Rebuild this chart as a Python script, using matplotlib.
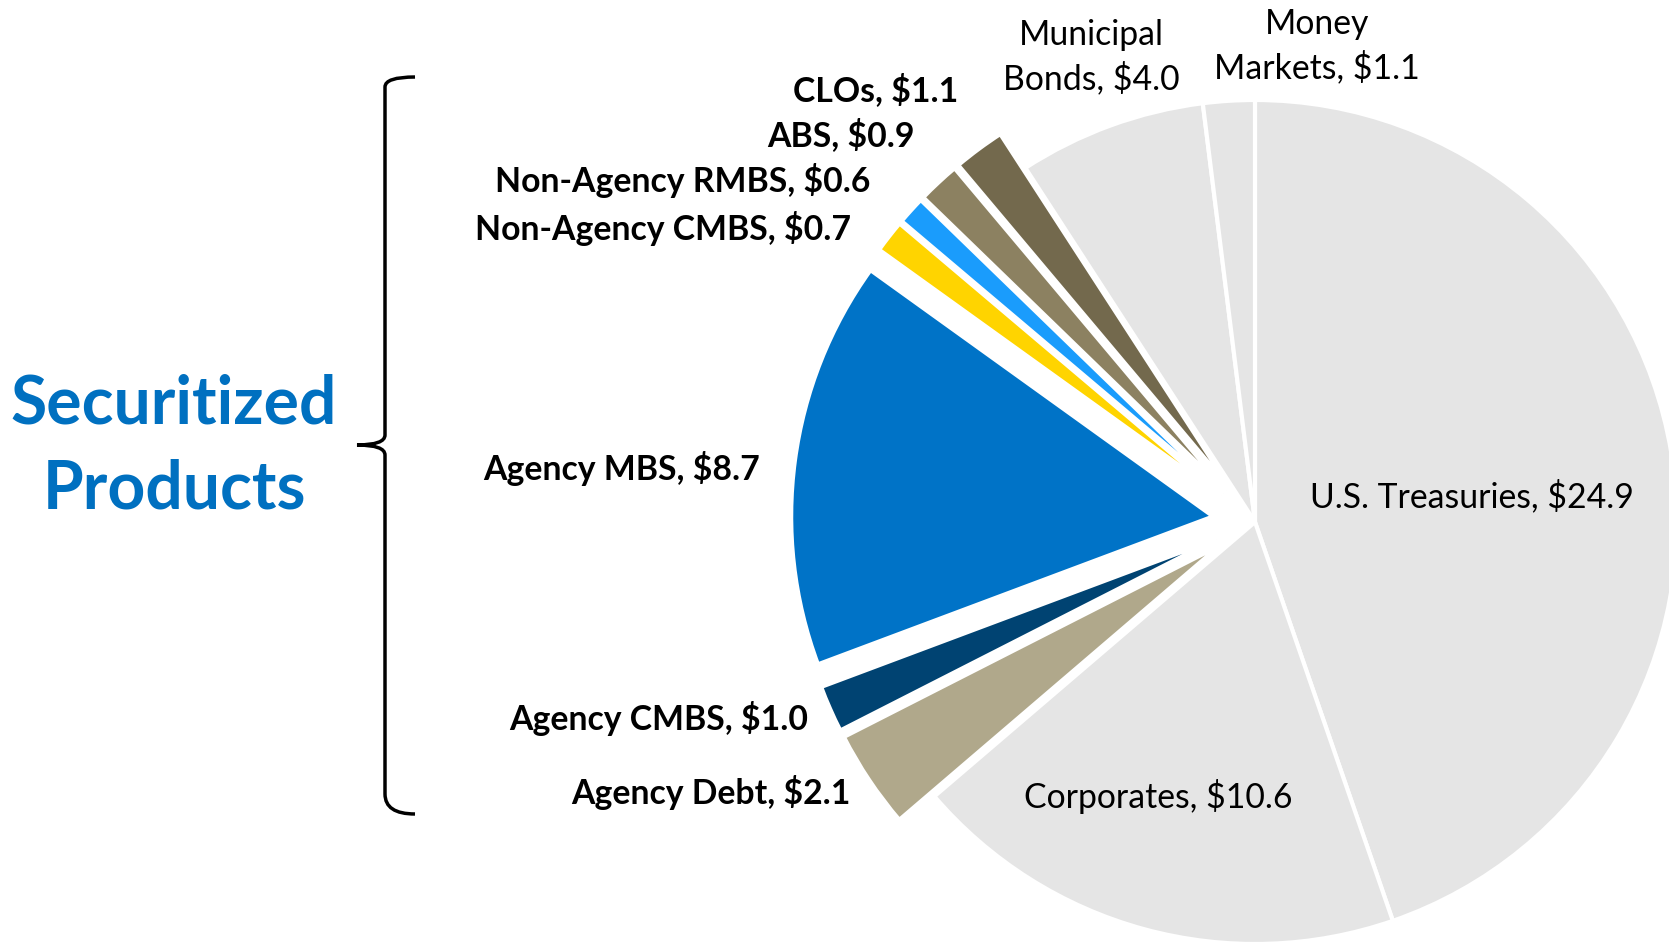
import matplotlib
matplotlib.use("Agg")
import matplotlib.pyplot as plt
from matplotlib.path import Path
from matplotlib.patches import PathPatch

# ---- data ----
categories = ["U.S. Treasuries", "Corporates", "Agency Debt", "Agency CMBS", "Agency MBS",
              "Non-Agency CMBS", "Non-Agency RMBS", "ABS", "CLOs",
              "Municipal Bonds", "Money Markets"]
values = [24.9, 10.6, 2.1, 1.0, 8.7, 0.7, 0.6, 0.9, 1.1, 4.0, 1.1]
securitized = [False, False, True, True, True, True, True, True, True, False, False]
colors = ["#E5E5E5", "#E5E5E5", "#B0A88B", "#004372", "#0073C7",
          "#FFD400", "#1A9CFC", "#8C8161", "#73694D", "#E5E5E5", "#E5E5E5"]
label_text = ["U.S. Treasuries, $24.9", "Corporates, $10.6", "Agency Debt, $2.1",
              "Agency CMBS, $1.0", "Agency MBS, $8.7", "Non-Agency CMBS, $0.7",
              "Non-Agency RMBS, $0.6", "ABS, $0.9", "CLOs, $1.1",
              "Municipal\nBonds, $4.0", "Money\nMarkets, $1.1"]

W, H = 1669, 942
fig = plt.figure(figsize=(W / 100, H / 100), dpi=100)
ax = fig.add_axes([0, 0, 1, 1])

FONT = "Lato"
cx, cy, R = 1255, H - 522, 422
# pie's explode is in data units -> offset of 10% of the radius
explode = [0.1 * R if s else 0.0 for s in securitized]
ax.pie(values, colors=colors, startangle=90, counterclock=False, explode=explode,
       radius=R, center=(cx, cy),
       wedgeprops=dict(edgecolor="white", linewidth=3))
ax.set_xlim(0, W)
ax.set_ylim(0, H)
ax.set_aspect("equal")
ax.axis("off")

# label positions (pixel coords from top), anchor
pos = {
    "U.S. Treasuries": (1472, 496, "center"),
    "Corporates": (1158, 797, "center"),
    "Agency Debt": (851, 793, "right"),
    "Agency CMBS": (808, 718, "right"),
    "Agency MBS": (760, 469, "right"),
    "Non-Agency CMBS": (851, 229, "right"),
    "Non-Agency RMBS": (870, 181, "right"),
    "ABS": (915, 135, "right"),
    "CLOs": (958, 90, "right"),
    "Municipal Bonds": (1091, 57, "center"),
    "Money Markets": (1317, 46, "center"),
}
for cat, txt, sec in zip(categories, label_text, securitized):
    x, y, ha = pos[cat]
    ax.text(x, H - y, txt, ha=ha, va="center", family=FONT,
            fontsize=24.3, fontweight="bold" if sec else "normal",
            color="black", linespacing=1.38)

ax.text(174, H - 447, "Securitized\nProducts", ha="center", va="center",
        family=FONT, fontsize=47.5, fontweight="bold", color="#0070C0",
        linespacing=1.45)

# curly brace
def Y(y):
    return H - y
xl, xt, xh = 385, 357, 415
top, mid, bot = 77, 445, 814
verts = [(xh, Y(top)), (xl, Y(top)), (xl, Y(top + 10)), (xl, Y(top + 20)),
         (xl, Y(mid - 10)),
         (xl, Y(mid)), (xt, Y(mid)),
         (xl, Y(mid)), (xl, Y(mid + 10)),
         (xl, Y(bot - 20)),
         (xl, Y(bot)), (xh, Y(bot))]
codes = [Path.MOVETO, Path.CURVE3, Path.CURVE3, Path.LINETO,
         Path.LINETO,
         Path.CURVE3, Path.CURVE3,
         Path.CURVE3, Path.CURVE3,
         Path.LINETO,
         Path.CURVE3, Path.CURVE3]
ax.add_patch(PathPatch(Path(verts, codes), facecolor="none", edgecolor="black",
                       linewidth=2.5, capstyle="butt"))

fig.savefig("out.png", dpi=100, facecolor="white")
